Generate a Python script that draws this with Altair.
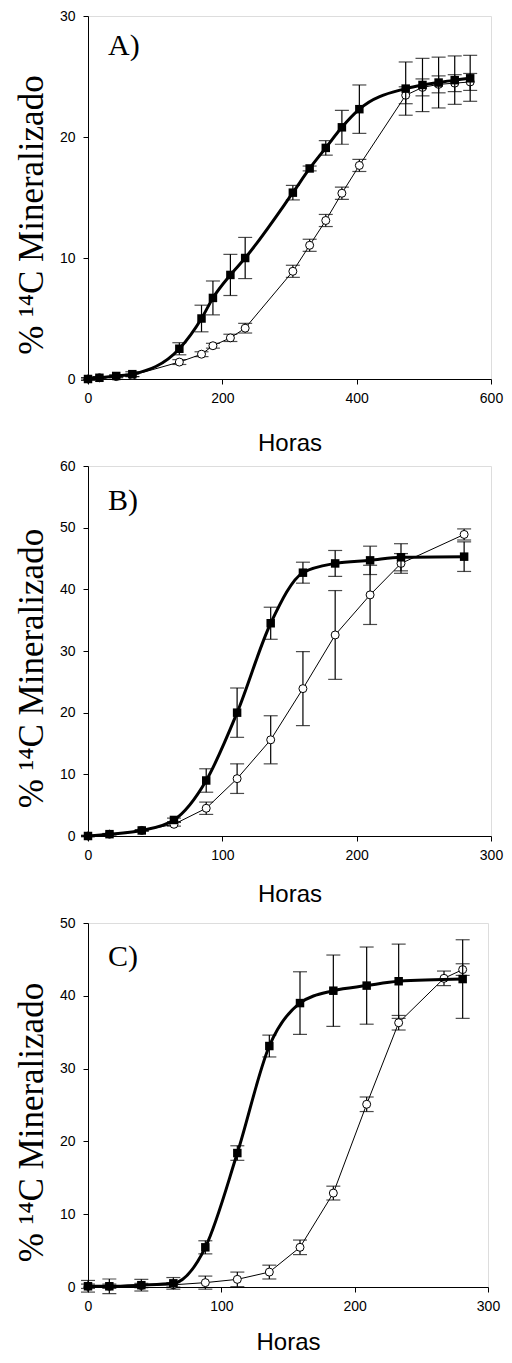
import altair as alt
import pandas as pd

# ---------------- data ----------------
panel_labels = ["A)", "B)", "C)"]

# Panel A
A_hours = [0, 17, 42, 66, 136, 169, 186, 212, 234, 305, 330, 354, 378, 404, 473, 498, 522, 546, 569]
A_sq = [0, 0.1, 0.25, 0.4, 2.5, 5.0, 6.7, 8.6, 10.0, 15.4, 17.4, 19.1, 20.8, 22.3, 24.0, 24.3, 24.5, 24.7, 24.85]
A_sq_err = [0.1, 0.1, 0.1, 0.2, 0.5, 1.1, 1.4, 1.7, 1.7, 0.6, 0.2, 0.6, 1.4, 2.0, 2.2, 2.2, 2.1, 2.0, 1.9]
A_ci = [0, 0.1, 0.2, 0.3, 1.4, 2.05, 2.75, 3.4, 4.2, 8.9, 11.05, 13.1, 15.35, 17.65, 23.45, 24.1, 24.35, 24.45, 24.55]
A_ci_err = [0.1, 0.1, 0.1, 0.1, 0.2, 0.2, 0.2, 0.3, 0.4, 0.5, 0.5, 0.5, 0.5, 0.5, 0.7, 0.7, 0.7, 0.7, 0.7]

# Panel B
B_hours = [0, 16, 40, 64, 88, 111, 136, 160, 184, 210, 233, 280]
B_sq = [0, 0.3, 0.9, 2.6, 9.0, 20.0, 34.5, 42.7, 44.2, 44.7, 45.2, 45.3]
B_sq_err = [0.1, 0.1, 0.1, 0.3, 1.9, 4.0, 2.6, 1.7, 2.1, 2.3, 2.2, 2.4]
B_ci = [0, 0.3, 0.9, 1.9, 4.5, 9.3, 15.6, 23.9, 32.6, 39.1, 44.2, 48.9]
B_ci_err = [0.1, 0.1, 0.1, 0.3, 1.0, 2.4, 3.9, 6.0, 7.2, 4.8, 1.6, 0.9]

# Panel C
C_hours_sq = [0, 16, 40, 64, 88, 112, 136, 159, 184, 209, 233, 281]
C_sq = [0.1, 0.1, 0.25, 0.5, 5.45, 18.4, 33.1, 39.0, 40.7, 41.4, 42.0, 42.3]
C_sq_err = [0.8, 1.0, 0.8, 0.8, 0.9, 1.0, 1.5, 4.3, 4.9, 5.3, 5.1, 5.4]
C_hours_ci = [0, 16, 40, 64, 88, 112, 136, 159, 184, 209, 233, 267, 281]
C_ci = [0.1, 0.1, 0.2, 0.3, 0.6, 1.05, 2.05, 5.45, 12.9, 25.1, 36.3, 42.4, 43.6]
C_ci_err = [0.3, 0.3, 0.3, 0.3, 0.9, 1.0, 0.95, 1.0, 0.95, 1.0, 1.0, 1.0, 0.8]

A_xticks = [0, 200, 400, 600]
B_xticks = [0, 100, 200, 300]
C_xticks = [0, 100, 200, 300]
A_yticks = [0, 10, 20, 30]
B_yticks = [0, 10, 20, 30, 40, 50, 60]
C_yticks = [0, 10, 20, 30, 40, 50]

Y_TITLE = "% \u00b9\u2074C Mineralizado"
X_TITLE = "Horas"


def make_df(hours, vals, errs):
    return pd.DataFrame({
        "h": hours,
        "v": vals,
        "lo": [v - e for v, e in zip(vals, errs)],
        "hi": [v + e for v, e in zip(vals, errs)],
    })


def panel(hs, sq, sqe, hc, ci, cie, xmax, xticks, ymax, yticks, w, h, label, label_y, xtitle_y):
    sq_df = make_df(hs, sq, sqe)
    ci_df = make_df(hc, ci, cie)

    xs = alt.Scale(domain=[0, xmax], nice=False, zero=False)
    ys = alt.Scale(domain=[0, ymax], nice=False, zero=False)
    xaxis = alt.Axis(values=xticks, title=X_TITLE, grid=False, domainColor="black",
                     tickColor="black", tickSize=5, labelFont="Liberation Sans",
                     labelFontSize=14, labelColor="black", labelPadding=7,
                     titleFont="Liberation Sans", titleFontSize=24, titleFontWeight="normal",
                     titleColor="black", titleY=xtitle_y, titleBaseline="middle",
                     labelFlush=False)
    yaxis = alt.Axis(values=yticks, title=Y_TITLE, grid=False, domainColor="black",
                     tickColor="black", tickSize=5, labelFont="Liberation Sans",
                     labelFontSize=14, labelColor="black", labelPadding=8,
                     titleFont="Liberation Serif", titleFontSize=35, titleFontWeight="normal",
                     titleColor="black", titleAngle=270, titleBaseline="alphabetic",
                     titleAlign="center", titleX=-46, titleY=h / 2 + 17)

    X = alt.X("h:Q", scale=xs, axis=xaxis)
    Y = alt.Y("v:Q", scale=ys, axis=yaxis)
    Xn = alt.X("h:Q", scale=xs)

    def series(df, thick):
        base = alt.Chart(df)
        if thick:
            line = base.mark_line(color="black", strokeWidth=3, interpolate="monotone").encode(x=X, y=Y)
        else:
            line = base.mark_line(color="black", strokeWidth=1).encode(x=X, y=Y)
        rule = base.mark_rule(color="black", strokeWidth=1.2).encode(
            x=Xn, y=alt.Y("lo:Q", scale=ys), y2="hi:Q")
        cap_lo = base.mark_tick(color="black", orient="horizontal", size=14, thickness=1.2).encode(
            x=Xn, y=alt.Y("lo:Q", scale=ys))
        cap_hi = base.mark_tick(color="black", orient="horizontal", size=14, thickness=1.2).encode(
            x=Xn, y=alt.Y("hi:Q", scale=ys))
        if thick:
            pts = base.mark_square(color="black", size=72, opacity=1).encode(x=Xn, y=alt.Y("v:Q", scale=ys))
        else:
            pts = base.mark_point(shape="circle", filled=False, fill="white", stroke="black",
                                  strokeWidth=1, size=64, opacity=1).encode(
                x=Xn, y=alt.Y("v:Q", scale=ys))
        return [line, rule, cap_lo, cap_hi, pts]

    lab = alt.Chart(pd.DataFrame({"lab": [label]})).mark_text(
        font="Liberation Serif", fontSize=30, align="left", baseline="alphabetic", color="black"
    ).encode(x=alt.value(20), y=alt.value(label_y), text="lab:N")

    layers = series(ci_df, False) + series(sq_df, True) + [lab]
    return alt.layer(*layers).properties(width=w, height=h)


pA = panel(A_hours, A_sq, A_sq_err, A_hours, A_ci, A_ci_err, 600, A_xticks, 30, A_yticks,
           403, 363, panel_labels[0], 39, 64)
pB = panel(B_hours, B_sq, B_sq_err, B_hours, B_ci, B_ci_err, 300, B_xticks, 60, B_yticks,
           403, 370, panel_labels[1], 44, 58)
pC = panel(C_hours_sq, C_sq, C_sq_err, C_hours_ci, C_ci, C_ci_err, 300, C_xticks, 50, C_yticks,
           400, 364, panel_labels[2], 43, 55)

chart = alt.vconcat(pA, pB, pC, spacing=87, bounds="flush").properties(
    padding={"left": 5, "top": 0, "right": 0, "bottom": 0}
).configure_view(stroke="black", strokeWidth=1).configure(background="white")

chart.save("out.html", embed_options={"renderer": "svg", "actions": False})
